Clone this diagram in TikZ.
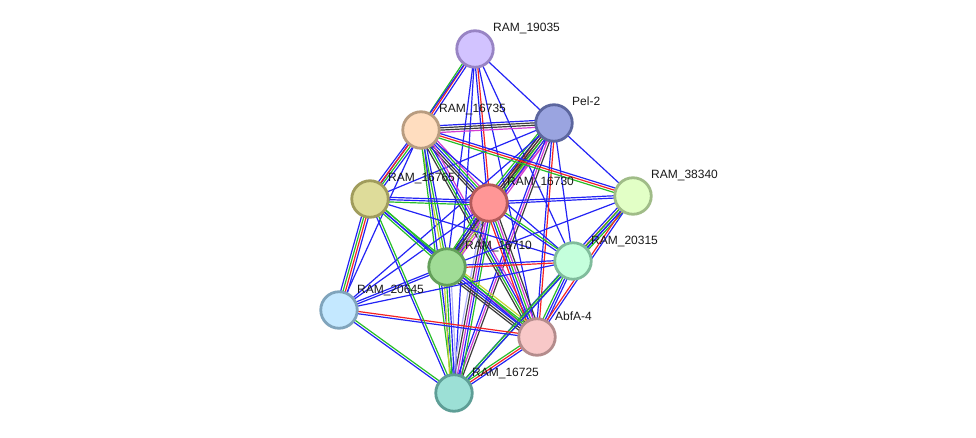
\documentclass[tikz,border=0pt]{standalone}
\usepackage{fontspec}
\setmainfont{Liberation Sans}
\usetikzlibrary{calc,backgrounds}
% evidence colours
\definecolor{ppiblue}{RGB}{35,35,245}
\definecolor{ppired}{RGB}{245,35,35}
\definecolor{ppigreen}{RGB}{40,190,40}
\definecolor{ppiblack}{RGB}{60,60,60}
\definecolor{ppimagenta}{RGB}{210,60,210}
\definecolor{ppiyellow}{RGB}{195,210,50}
\definecolor{ppilav}{RGB}{175,175,250}
% protein colours
\definecolor{fA}{RGB}{210,195,255}\definecolor{bA}{RGB}{152,132,196}
\definecolor{fP}{RGB}{154,164,224}\definecolor{bP}{RGB}{92,102,158}
\definecolor{fB}{RGB}{255,221,191}\definecolor{bB}{RGB}{184,156,128}
\definecolor{fK}{RGB}{222,220,154}\definecolor{bK}{RGB}{160,156,92}
\definecolor{fC}{RGB}{255,150,150}\definecolor{bC}{RGB}{180,90,90}
\definecolor{fS}{RGB}{226,255,198}\definecolor{bS}{RGB}{160,188,136}
\definecolor{fT}{RGB}{196,255,220}\definecolor{bT}{RGB}{128,188,156}
\definecolor{fD}{RGB}{160,220,150}\definecolor{bD}{RGB}{100,160,90}
\definecolor{fF}{RGB}{196,232,255}\definecolor{bF}{RGB}{128,164,188}
\definecolor{fG}{RGB}{248,200,200}\definecolor{bG}{RGB}{180,140,140}
\definecolor{fH}{RGB}{156,224,214}\definecolor{bH}{RGB}{94,158,150}
\tikzset{
  prot/.style={circle,line width=2.8pt,minimum size=36.5pt,inner sep=0pt},
  protlabel/.style={anchor=base west,text=black!90,inner sep=0pt,font=\fontsize{12}{14}\selectfont},
  link/.style={line width=1.2pt}
}
% one edge = parallel lines, one per evidence channel
\newcommand{\ppiedge}[3]{%
  \foreach \c [count=\n] in {#3} {\xdef\ppin{\n}}%
  \foreach \c [count=\i] in {#3} {%
    \pgfmathsetmacro\off{(\i-(\ppin+1)/2)*2.3}%
    \draw[link,\c] ($(#1)!\off pt!90:(#2)$) -- ($(#2)!\off pt!-90:(#1)$);
  }}
\begin{document}
\begin{tikzpicture}[x=1pt,y=-1pt]
\useasboundingbox (0,0) rectangle (976,438);
\node[prot,fill=fA,draw=bA] (r19035) at (475,49) {};
\node[prot,fill=fP,draw=bP] (pel2) at (554,123) {};
\node[prot,fill=fB,draw=bB] (r16735) at (421,130) {};
\node[prot,fill=fS,draw=bS] (r38340) at (633,196) {};
\node[prot,fill=fK,draw=bK] (r16765) at (370,199) {};
\node[prot,fill=fC,draw=bC] (r16730) at (489,203) {};
\node[prot,fill=fD,draw=bD] (r16710) at (447,267) {};
\node[prot,fill=fT,draw=bT] (r20315) at (573,261) {};
\node[prot,fill=fF,draw=bF] (r20645) at (339,310) {};
\node[prot,fill=fG,draw=bG] (abfa4) at (537,337) {};
\node[prot,fill=fH,draw=bH] (r16725) at (454,393) {};
% labels
\node[protlabel] (l19035) at ($(r19035)+(18,-17)$) {RAM\_19035};
\node[protlabel] (lpel2) at ($(pel2)+(18,-17)$) {Pel-2};
\node[protlabel] (l16735) at ($(r16735)+(18,-17)$) {RAM\_16735};
\node[protlabel] (l38340) at ($(r38340)+(18,-17)$) {RAM\_38340};
\node[protlabel] (l16765) at ($(r16765)+(18,-17)$) {RAM\_16765};
\node[protlabel] (l16730) at ($(r16730)+(18,-17)$) {RAM\_16730};
\node[protlabel] (l16710) at ($(r16710)+(18,-17)$) {RAM\_16710};
\node[protlabel] (l20315) at ($(r20315)+(18,-17)$) {RAM\_20315};
\node[protlabel] (l20645) at ($(r20645)+(18,-17)$) {RAM\_20645};
\node[protlabel] (labfa4) at ($(abfa4)+(18,-17)$) {AbfA-4};
\node[protlabel] (l16725) at ($(r16725)+(18,-17)$) {RAM\_16725};
\begin{pgfonlayer}{background}
\ppiedge{r19035}{r16735}{ppigreen,ppired,ppiblue}
\ppiedge{r19035}{pel2}{ppiblue}
\ppiedge{r19035}{r16730}{ppiblue,ppired}
\ppiedge{r19035}{r16710}{ppiblue}
\ppiedge{r19035}{r16725}{ppiblue}
\ppiedge{r19035}{abfa4}{ppiblue}
\ppiedge{r19035}{r20315}{ppiblue}
\ppiedge{r19035}{r16765}{ppiblue}
\ppiedge{pel2}{r16735}{ppiblue,ppiblack,ppiblack,ppimagenta}
\ppiedge{pel2}{r38340}{ppiblue}
\ppiedge{pel2}{r16730}{ppigreen,ppiblue,ppired,ppiblack,ppiyellow,ppimagenta}
\ppiedge{pel2}{r16765}{ppiblue}
\ppiedge{pel2}{r16710}{ppiblack,ppiblack,ppigreen,ppiblue,ppimagenta}
\ppiedge{pel2}{r20315}{ppiblue}
\ppiedge{pel2}{abfa4}{ppiblue,ppired}
\ppiedge{pel2}{r16725}{ppiblue,ppimagenta,ppiblack}
\ppiedge{pel2}{r20645}{ppiblue}
\ppiedge{r16735}{r16765}{ppiblue,ppired,ppigreen,ppiblue}
\ppiedge{r16735}{r16730}{ppiblack,ppiblack,ppiblue,ppigreen,ppimagenta}
\ppiedge{r16735}{r38340}{ppigreen,ppired,ppiblue}
\ppiedge{r16735}{r20315}{ppiblue}
\ppiedge{r16735}{r16710}{ppiyellow,ppigreen,ppiblue}
\ppiedge{r16735}{r16725}{ppigreen,ppiblue}
\ppiedge{r16735}{r20645}{ppiblue}
\ppiedge{r16735}{abfa4}{ppiblack,ppigreen,ppiblue,ppimagenta}
\ppiedge{r16730}{r16765}{ppiblue,ppiblue,ppigreen}
\ppiedge{r16730}{r38340}{ppiblue,ppiblue}
\ppiedge{r16730}{r16710}{ppigreen,ppiblue,ppiblack,ppimagenta,ppiyellow}
\ppiedge{r16730}{r20315}{ppiblue,ppigreen}
\ppiedge{r16730}{abfa4}{ppired,ppiblue,ppigreen,ppimagenta,ppiblack}
\ppiedge{r16730}{r16725}{ppilav,ppiblack,ppimagenta,ppiblue,ppigreen}
\ppiedge{r16730}{r20645}{ppiblue}
\ppiedge{r16710}{r16765}{ppigreen,ppiblue,ppigreen}
\ppiedge{r16710}{r20315}{ppired,ppiblue}
\ppiedge{r16710}{abfa4}{ppiblack,ppiblack,ppiblue,ppimagenta,ppigreen,ppiyellow}
\ppiedge{r16710}{r16725}{ppiyellow,ppigreen,ppiblue,ppilav}
\ppiedge{r16710}{r20645}{ppiblue,ppiblue}
\ppiedge{r16710}{r38340}{ppiblue}
\ppiedge{r20315}{r38340}{ppigreen,ppiblue,ppired,ppiblue}
\ppiedge{r20315}{abfa4}{ppigreen,ppiblue,ppiblue}
\ppiedge{r20315}{r16725}{ppiblue,ppigreen}
\ppiedge{r20315}{r20645}{ppiblue}
\ppiedge{r20315}{r16765}{ppiblue}
\ppiedge{r38340}{abfa4}{ppired,ppiblue}
\ppiedge{r38340}{r16725}{ppigreen,ppiblue}
\ppiedge{r20645}{r16765}{ppiblue,ppired,ppigreen,ppiblue}
\ppiedge{r20645}{abfa4}{ppiblue,ppired}
\ppiedge{r20645}{r16725}{ppiblue,ppigreen}
\ppiedge{abfa4}{r16725}{ppigreen,ppired,ppiblue}
\ppiedge{abfa4}{r16765}{ppigreen,ppiblue}
\ppiedge{r16725}{r16765}{ppigreen,ppiblue}
\end{pgfonlayer}
\end{tikzpicture}
\end{document}
